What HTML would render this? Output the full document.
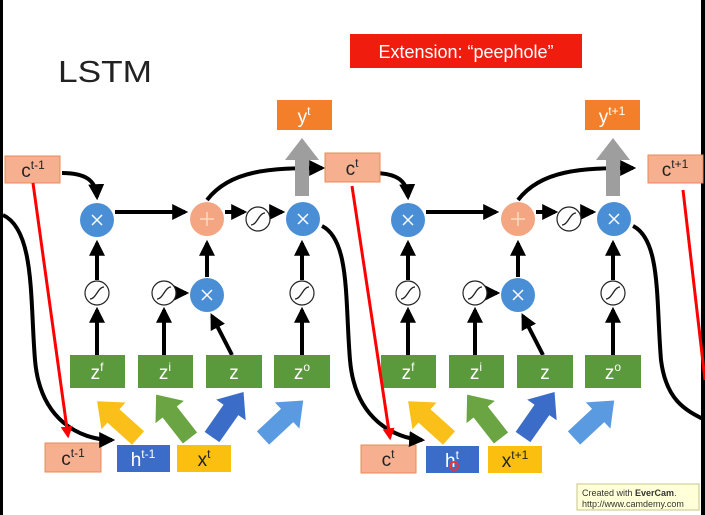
<!DOCTYPE html>
<html><head><meta charset="utf-8"><style>
html,body{margin:0;padding:0;background:#fff;}
svg{display:block;font-family:"Liberation Sans",sans-serif;}
</style></head><body>
<svg width="705" height="515" viewBox="0 0 705 515" xmlns="http://www.w3.org/2000/svg">
<defs>
<marker id="ah" viewBox="0 0 10 10" refX="8" refY="5" markerWidth="4" markerHeight="4" orient="auto"><path d="M0,0 L10,5 L0,10 z" fill="#000"/></marker>
<marker id="ar" viewBox="0 0 10 10" refX="8" refY="5" markerWidth="4" markerHeight="4" orient="auto"><path d="M0,0 L10,5 L0,10 z" fill="#f00"/></marker>
<g id="sig"><circle r="12" fill="#fff" stroke="#222" stroke-width="1.2"/><path d="M-7,6 C-1,6 1,-6 7,-6" stroke="#222" stroke-width="1.3" fill="none"/></g>
<g id="mul"><circle r="17" fill="#4a8fd6"/><path d="M-5,-5 L5,5 M5,-5 L-5,5" stroke="#fff" stroke-width="1.5"/></g>
<path id="barrow" d="M-9,0 L-9,-33 L-18,-33 L0,-55 L18,-33 L9,-33 L9,0 z"/>
<g id="cell">
 <g stroke="#000" stroke-width="4" fill="none" marker-end="url(#ah)">
  <path d="M62,173 C85,173 96,180 97,197"/>
  <path d="M115,212 L185,212"/>
  <path d="M97,355 L97,310"/>
  <path d="M97,280 L97,243"/>
  <path d="M164,355 L164,310"/>
  <path d="M177,293 L186,293"/>
  <path d="M232,355 L212,316"/>
  <path d="M207,277 L207,243"/>
  <path d="M225,212 L244,212"/>
  <path d="M271,212 L282,212"/>
  <path d="M302,355 L302,310"/>
  <path d="M302,280 L302,243"/>
  <path d="M207,200 C230,170 270,168 322,168"/>
 </g>
 <use href="#mul" x="97" y="220"/>
 <circle cx="207" cy="219" r="17" fill="#f4a582"/>
 <path d="M207,212 V226 M200,219 H214" stroke="#fcd9c5" stroke-width="1.5"/>
 <use href="#sig" x="258" y="219"/>
 <use href="#mul" x="303" y="219"/>
 <use href="#sig" x="97" y="293"/>
 <use href="#sig" x="164" y="293"/>
 <use href="#mul" x="207" y="295"/>
 <use href="#sig" x="302" y="293"/>
 <path d="M295,196 L295,160 L285,160 L302,138 L319,160 L309,160 L309,196 z" fill="#9e9e9e"/>
 <g fill="#5b9a3c">
  <rect x="70" y="355" width="55" height="33"/>
  <rect x="138" y="355" width="55" height="33"/>
  <rect x="206" y="355" width="56" height="33"/>
  <rect x="274" y="355" width="56" height="33"/>
 </g>
 <use href="#barrow" fill="#fbbf1a" transform="translate(138,438) rotate(-48)"/>
 <use href="#barrow" fill="#6aa443" transform="translate(190,438) rotate(-38)"/>
 <use href="#barrow" fill="#3a6cc8" transform="translate(212,437) rotate(35)"/>
 <use href="#barrow" fill="#5a9ae0" transform="translate(263,438) rotate(47)"/>
</g>
</defs>

<rect x="0" y="0" width="3" height="515" fill="#000"/>
<rect x="701" y="0" width="4" height="515" fill="#000"/>

<text x="58" y="82" font-size="31" fill="#222" textLength="94" lengthAdjust="spacingAndGlyphs">LSTM</text>
<rect x="350" y="34" width="232" height="34" fill="#f01d0e"/>
<text x="466" y="58" font-size="18" fill="#fff" text-anchor="middle">Extension: “peephole”</text>

<use href="#cell"/>
<use href="#cell" x="311"/>

<g fill="#f6b08f" stroke="#e8895b" stroke-width="1">
 <rect x="5" y="156" width="55" height="27"/>
 <rect x="325" y="153" width="55" height="29"/>
 <rect x="648" y="155" width="55" height="28"/>
 <rect x="45" y="443" width="56" height="29"/>
 <rect x="361" y="445" width="55" height="28"/>
</g>
<g fill="#f47f2a">
 <rect x="277" y="100" width="55" height="30"/>
 <rect x="585" y="100" width="55" height="30"/>
</g>
<rect x="117" y="445" width="53" height="27" fill="#3a6cc8"/>
<rect x="177" y="445" width="54" height="27" fill="#fbbf0f"/>
<rect x="426" y="446" width="53" height="27" fill="#3a6cc8"/>
<rect x="488" y="446" width="54" height="27" fill="#fbbf0f"/>

<g stroke="#000" stroke-width="4" fill="none">
 <path d="M3,215 C35,230 30,300 35,360 C40,420 80,440 112,440" marker-end="url(#ah)"/>
 <path d="M322,226 C350,240 345,300 350,360 C355,420 395,438 422,440" marker-end="url(#ah)"/>
 <path d="M633,226 C661,240 656,300 661,360 C666,400 685,410 705,420"/>
</g>
<g stroke="#f00" stroke-width="3" fill="none">
 <path d="M33,183 L68,436" marker-end="url(#ar)"/>
 <path d="M352,186 L390,438" marker-end="url(#ar)"/>
 <path d="M683,190 L705,380"/>
</g>

<g font-size="19" fill="#222" text-anchor="middle">
 <text x="33" y="177">c<tspan font-size="12" dy="-8">t-1</tspan></text>
 <text x="352" y="175">c<tspan font-size="12" dy="-8">t</tspan></text>
 <text x="675" y="176">c<tspan font-size="12" dy="-8">t+1</tspan></text>
 <text x="73" y="465">c<tspan font-size="12" dy="-8">t-1</tspan></text>
 <text x="388" y="466">c<tspan font-size="12" dy="-8">t</tspan></text>
 <text x="204" y="466">x<tspan font-size="12" dy="-8">t</tspan></text>
 <text x="515" y="467">x<tspan font-size="12" dy="-8">t+1</tspan></text>
</g>
<g font-size="19" fill="#fff" text-anchor="middle">
 <text x="304" y="123">y<tspan font-size="12" dy="-8">t</tspan></text>
 <text x="612" y="123">y<tspan font-size="12" dy="-8">t+1</tspan></text>
 <text x="143" y="466">h<tspan font-size="12" dy="-8">t-1</tspan></text>
 <text x="452" y="467">h<tspan font-size="12" dy="-8">t</tspan></text>
 <text x="97" y="379">z<tspan font-size="12" dy="-8">f</tspan></text>
 <text x="165" y="379">z<tspan font-size="12" dy="-8">i</tspan></text>
 <text x="234" y="379">z</text>
 <text x="302" y="379">z<tspan font-size="12" dy="-8">o</tspan></text>
 <text x="408" y="379">z<tspan font-size="12" dy="-8">f</tspan></text>
 <text x="476" y="379">z<tspan font-size="12" dy="-8">i</tspan></text>
 <text x="545" y="379">z</text>
 <text x="613" y="379">z<tspan font-size="12" dy="-8">o</tspan></text>
</g>
<circle cx="454" cy="466" r="4" fill="none" stroke="#e33" stroke-width="2"/>

<rect x="577" y="484" width="122" height="26" fill="#ffffd8" stroke="#c9c48a"/>
<text x="582" y="496" font-size="9" fill="#333">Created with <tspan font-weight="bold">EverCam</tspan>.</text>
<text x="582" y="507" font-size="9" fill="#333">http://www.camdemy.com</text>
</svg>
</body></html>
